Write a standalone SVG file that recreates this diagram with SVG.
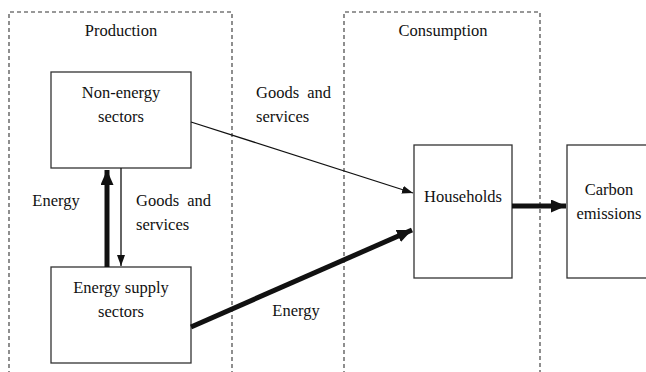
<svg xmlns="http://www.w3.org/2000/svg" width="646" height="372" viewBox="0 0 646 372">
<style>
text{font-family:"Liberation Serif","Times New Roman",serif;font-size:16.5px;fill:#111;text-anchor:middle}
.box{fill:#fff;stroke:#333;stroke-width:1.3}
.zone{fill:none;stroke:#333;stroke-width:1.1;stroke-dasharray:4 3}
.thin{stroke:#111;stroke-width:1.3;fill:none}
.thick{stroke:#111;stroke-width:5;fill:none}
</style>
<defs>
<marker id="ah" markerUnits="userSpaceOnUse" markerWidth="12" markerHeight="10" refX="11" refY="4" orient="auto"><path d="M0,0 L11,4 L0,8 Z" fill="#111"/></marker>
<marker id="ahb" markerUnits="userSpaceOnUse" markerWidth="16" markerHeight="14" refX="15" refY="6.5" orient="auto"><path d="M0,0 L15,6.5 L0,13 Z" fill="#111"/></marker>
</defs>
<g id="production-zone"><path class="zone" d="M9,375 V12 H232 V375"/><text x="121" y="36">Production</text></g>
<g id="consumption-zone"><path class="zone" d="M344,375 V12 H540 V375"/><text x="443" y="36">Consumption</text></g>
<g id="non-energy"><rect class="box" x="51" y="72" width="140" height="96"/><text x="121" y="98">Non-energy</text><text x="121" y="122">sectors</text></g>
<g id="energy-supply"><rect class="box" x="51" y="267" width="140" height="96"/><text x="121" y="293">Energy supply</text><text x="121" y="317">sectors</text></g>
<g id="households"><rect class="box" x="414" y="145" width="98" height="133"/><text x="463" y="202">Households</text></g>
<g id="carbon"><rect class="box" x="567" y="145" width="90" height="133"/><text x="609" y="195">Carbon</text><text x="609" y="219">emissions</text></g>
<g id="connectors">
<line class="thick" x1="107" y1="267" x2="107" y2="170" marker-end="url(#ahb)"/>
<line class="thin" x1="121" y1="168" x2="121" y2="266" marker-end="url(#ah)"/>
<line class="thin" x1="191" y1="122" x2="413" y2="193" marker-end="url(#ah)"/>
<line class="thick" x1="191" y1="327" x2="412" y2="230" marker-end="url(#ahb)"/>
<line class="thick" x1="512" y1="206" x2="566" y2="206" marker-end="url(#ahb)"/>
</g>
<g id="labels">
<text x="56" y="206">Energy</text>
<text x="136" y="206" style="text-anchor:start;word-spacing:4px">Goods and</text>
<text x="136" y="230" style="text-anchor:start">services</text>
<text x="256" y="98" style="text-anchor:start;word-spacing:4px">Goods and</text>
<text x="256" y="122" style="text-anchor:start">services</text>
<text x="296" y="316">Energy</text>
</g>
</svg>
